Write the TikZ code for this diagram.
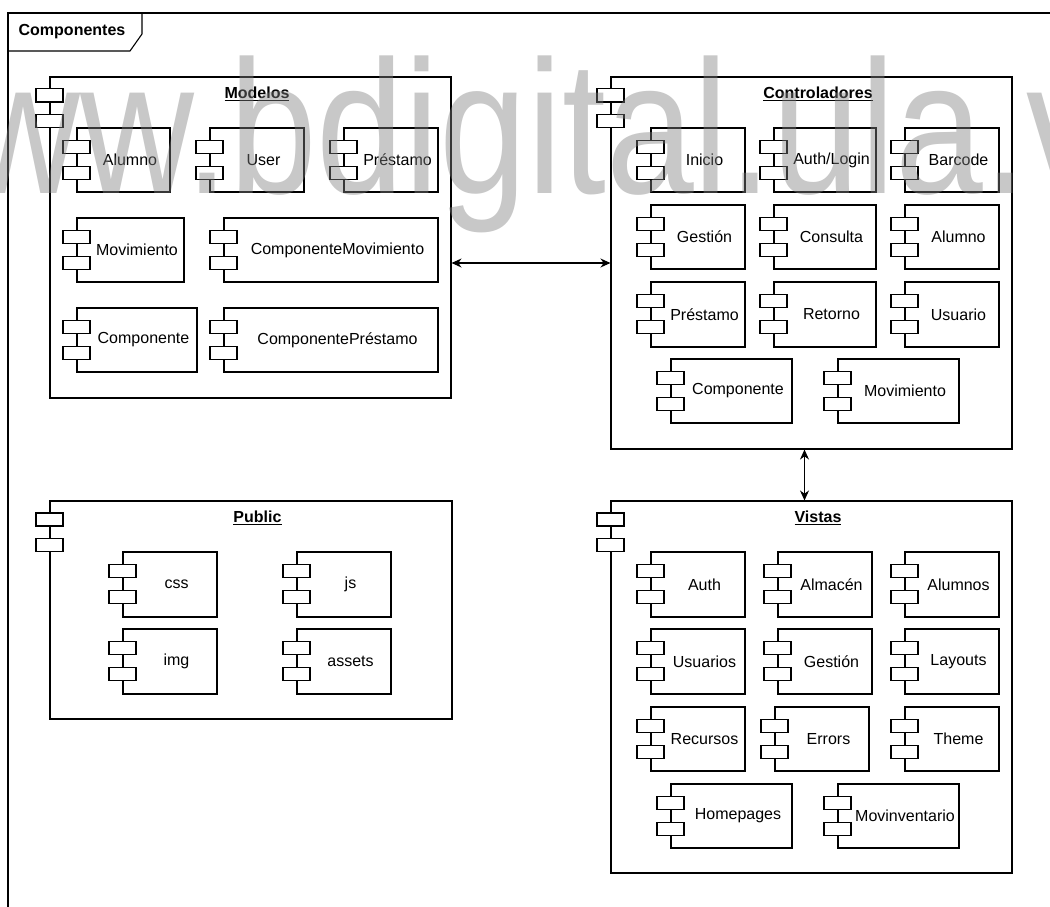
\documentclass[tikz,border=0pt]{standalone}
\usepackage{fontspec}
\setmainfont{Liberation Sans}
\usetikzlibrary{arrows.meta,fit,calc}
\tikzset{
  cbox/.style={draw, inner sep=0pt},
  icon/.style={draw, fill=white, minimum width=27pt, minimum height=13pt, inner sep=0pt},
  lbl/.style={font=\fontsize{16}{19}\selectfont, inner sep=0pt},
  ttl/.style={font=\fontsize{16}{19}\selectfont\bfseries, inner sep=0pt},
  biarrow/.style={{Stealth[length=10pt,width=9pt]}-{Stealth[length=10pt,width=9pt]}},
}
\newcommand\cmp[6]{%
  \coordinate (#1-a) at (#2,#3);
  \coordinate (#1-b) at (#4,#5);
  \node[cbox, fit=(#1-a)(#1-b)] (#1) {};
  \node[icon] (#1-p1) at ($(#1.north west)+(0,19.5)$) {};
  \node[icon] (#1-p2) at ($(#1.north west)+(0,45.5)$) {};
  \node[lbl] (#1-t) at ($(#1.center)+(6.5,0)$) {#6};
}
\newcommand\pkg[6]{%
  \coordinate (#1-a) at (#2,#3);
  \coordinate (#1-b) at (#4,#5);
  \node[cbox, fit=(#1-a)(#1-b)] (#1) {};
  \node[icon] (#1-p1) at ($(#1.north west)+(0,19)$) {};
  \node[icon] (#1-p2) at ($(#1.north west)+(0,44.5)$) {};
  \node[ttl] (#1-t) at ($(#1.north)+(6.5,17)$) {\underline{#6}};
}
\begin{document}
\begin{tikzpicture}[x=1pt, y=-1pt, line width=1.1pt]
\useasboundingbox (0,0) rectangle (1050,907);
\fill[white] (0,0) rectangle (1050,907);
% frame
\begin{scope}
  \clip (0,0) rectangle (1050,907);
  \coordinate (fr-nw) at (8,13);
  \coordinate (fr-ne) at (1100,13);
  \coordinate (fr-sw) at (8,960);
  \draw (fr-sw) -- (fr-nw) -- (fr-ne);
  \coordinate (tab-a) at (8,51);
  \coordinate (tab-b) at (130,51);
  \coordinate (tab-c) at (142,34);
  \coordinate (tab-d) at (142,13);
  \draw (tab-a) -- (tab-b) -- (tab-c) -- (tab-d);
\end{scope}
\node[ttl] (frame-t) at (72,32) {Componentes};

% Modelos
\pkg{mod}{50}{77}{451}{398}{Modelos}
\cmp{mAlu}{77}{128}{170}{192}{Alumno}
\cmp{mUser}{210}{128}{304}{192}{User}
\cmp{mPre}{344}{128}{438}{192}{Préstamo}
\cmp{mMov}{77}{218}{184}{282}{Movimiento}
\cmp{mCMov}{224}{218}{438}{282}{ComponenteMovimiento}
\cmp{mComp}{77}{308}{197}{372}{Componente}
\cmp{mCPre}{224}{308}{438}{372}{ComponentePréstamo}

% Controladores
\pkg{ctl}{611}{77}{1012}{449}{Controladores}
\cmp{cIni}{651}{128}{745}{192}{Inicio}
\cmp{cAuth}{774}{128}{876}{192}{Auth/Login}
\cmp{cBar}{905}{128}{999}{192}{Barcode}
\cmp{cGes}{651}{205}{745}{269}{Gestión}
\cmp{cCon}{774}{205}{876}{269}{Consulta}
\cmp{cAlu}{905}{205}{999}{269}{Alumno}
\cmp{cPre}{651}{282}{745}{347}{Préstamo}
\cmp{cRet}{774}{282}{876}{347}{Retorno}
\cmp{cUsu}{905}{282}{999}{347}{Usuario}
\cmp{cComp}{671}{359}{792}{423}{Componente}
\cmp{cMov}{838}{359}{959}{423}{Movimiento}

% Vistas
\pkg{vis}{611}{501}{1012}{873}{Vistas}
\cmp{vAuth}{651}{552}{745}{617}{Auth}
\cmp{vAlm}{778}{552}{872}{617}{Almacén}
\cmp{vAlus}{905}{552}{999}{617}{Alumnos}
\cmp{vUsu}{651}{629}{745}{694}{Usuarios}
\cmp{vGes}{778}{629}{872}{694}{Gestión}
\cmp{vLay}{905}{629}{999}{694}{Layouts}
\cmp{vRec}{651}{707}{745}{771}{Recursos}
\cmp{vErr}{775}{707}{869}{771}{Errors}
\cmp{vThe}{905}{707}{999}{771}{Theme}
\cmp{vHom}{671}{784}{792}{848}{Homepages}
\cmp{vMovi}{838}{784}{959}{848}{Movinventario}

% Public
\pkg{pub}{50}{501}{452}{719}{Public}
\cmp{pCss}{123}{552}{217}{617}{css}
\cmp{pJs}{297}{552}{391}{617}{js}
\cmp{pImg}{123}{629}{217}{694}{img}
\cmp{pAss}{297}{629}{391}{694}{assets}

% connectors
\draw[biarrow] (mod.east |- ctl.west) -- (ctl.west);
\coordinate (vt) at ($(ctl.south)+(-7,0)$);
\draw[biarrow] (vt) -- (vt |- vis.north);

% watermark
\begin{scope}
  \clip (0,0) rectangle (1050,907);
  \node[anchor=base west, inner sep=0pt, text=black!50, text opacity=0.43,
        font=\fontsize{190}{190}\selectfont] (wm) at (-148,193)
        {\scalebox{0.83}[1]{www.bdigital.ula.ve}};
\end{scope}
\end{tikzpicture}
\end{document}
